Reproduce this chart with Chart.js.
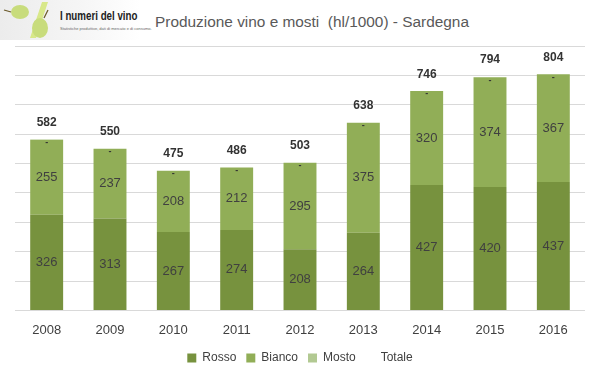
<!DOCTYPE html>
<html>
<head>
<meta charset="utf-8">
<script src="https://cdn.jsdelivr.net/npm/chart.js@4"></script>
<style>
    html, body { margin: 0; padding: 0; background: #fff; }
    #wrap { position: relative; width: 599px; height: 378px; overflow: hidden; }
    #logo {
        position: absolute; left: 0; top: 0; width: 140px; height: 40px;
        background: linear-gradient(to right, #ececec, #f6f6f6 60%, #fff);
    }
    #logo .name { position: absolute; left: 60px; top: 9px; font: bold 12.5px "Liberation Sans", sans-serif; color: #222; white-space: nowrap; transform: scaleX(0.78); transform-origin: left top; }
    #logo .sub { position: absolute; left: 60px; top: 26px; font: 4px "Liberation Sans", sans-serif; color: #666; white-space: nowrap; }
    #title { position: absolute; left: 155px; top: 13px; font: 15.4px "Liberation Sans", sans-serif; color: #595959; white-space: nowrap; }
    canvas { position: absolute; left: 0; top: 0; }
</style>
</head>
<body>
<div id="wrap">
    <div id="logo">
        <svg width="60" height="40" style="position:absolute;left:0;top:0">
            <polygon points="30,38 36,38 48,2 42,2" fill="#d8e88a"/>
            <ellipse cx="20" cy="12" rx="9" ry="7" fill="#c8dc7c"/>
            <line x1="4" y1="10" x2="11" y2="12" stroke="#6b5a2a" stroke-width="1.3"/>
            <ellipse cx="40" cy="28" rx="8" ry="10" fill="#c8dc7c"/>
            <line x1="44" y1="18" x2="48" y2="10" stroke="#6b5a2a" stroke-width="1.3"/>
        </svg>
        <div class="name">I numeri del vino</div>
        <div class="sub">Statistiche produttive, dati di mercato e di consumo.</div>
    </div>
    <div id="title">Produzione vino e mosti&nbsp; (hl/1000) - Sardegna</div>
    <canvas id="chart" width="599" height="378"></canvas>
</div>
<script>
// data
const years = ['2008', '2009', '2010', '2011', '2012', '2013', '2014', '2015', '2016'];
const rosso = [326, 313, 267, 274, 208, 264, 427, 420, 437];
const bianco = [255, 237, 208, 212, 295, 375, 320, 374, 367];
const mosto = [1, 0, 0, 0, 0, 0, 0, 0, 0];
const totale = [582, 550, 475, 486, 503, 638, 746, 794, 804];

const colors = {
    rosso: '#77923e',
    bianco: '#91ae57',
    mosto: '#b2c992',
    text: '#404040',
    grid: '#d9d9d9'
};

// labels inside the segments, dash for mosto, totals above the bars
const labelPlugin = {
    id: 'barLabels',
    afterDatasetsDraw(chart) {
        const ctx = chart.ctx;
        const y = chart.scales.y;
        ctx.save();
        ctx.textAlign = 'center';
        ctx.textBaseline = 'middle';
        [0, 1].forEach(i => {
            const meta = chart.getDatasetMeta(i);
            ctx.font = '13px "Liberation Sans", sans-serif';
            ctx.fillStyle = colors.text;
            meta.data.forEach((bar, j) => {
                const v = chart.data.datasets[i].data[j];
                ctx.fillText(v, bar.x, (bar.y + bar.base) / 2);
            });
        });
        const mMeta = chart.getDatasetMeta(2);
        ctx.font = 'bold 9px "Liberation Sans", sans-serif';
        ctx.fillStyle = '#333';
        mMeta.data.forEach(bar => {
            ctx.fillText('-', bar.x, bar.y + 3);
        });
        const bMeta = chart.getDatasetMeta(1);
        ctx.font = 'bold 12px "Liberation Sans", sans-serif';
        ctx.fillStyle = '#333';
        totale.forEach((t, j) => {
            ctx.fillText(t, bMeta.data[j].x, y.getPixelForValue(t) - 17);
        });
        ctx.restore();
    }
};

new Chart(document.getElementById('chart'), {
    type: 'bar',
    data: {
        labels: years,
        datasets: [
            { label: 'Rosso', data: rosso, backgroundColor: colors.rosso },
            { label: 'Bianco', data: bianco, backgroundColor: colors.bianco },
            { label: 'Mosto', data: mosto, backgroundColor: colors.mosto },
            { label: 'Totale', data: totale.map(() => 0), backgroundColor: 'rgba(0,0,0,0)' }
        ]
    },
    options: {
        responsive: false,
        animation: false,
        datasets: { bar: { categoryPercentage: 1, barPercentage: 0.52 } },
        layout: { padding: { left: 15, right: 14, top: 46, bottom: 4 } },
        scales: {
            x: {
                stacked: true,
                grid: { display: false },
                border: { display: false },
                ticks: { color: colors.text, font: { size: 13, family: '"Liberation Sans", sans-serif' }, padding: 4 }
            },
            y: {
                stacked: true,
                min: 0,
                max: 900,
                ticks: { display: false, stepSize: 100 },
                grid: { color: colors.grid, drawTicks: false },
                border: { display: false }
            }
        },
        plugins: {
            legend: {
                position: 'bottom',
                labels: {
                    color: colors.text,
                    boxWidth: 9,
                    boxHeight: 9,
                    padding: 10,
                    font: { size: 12, family: '"Liberation Sans", sans-serif' }
                }
            },
            tooltip: { enabled: false }
        }
    },
    plugins: [labelPlugin]
});
</script>
</body>
</html>
